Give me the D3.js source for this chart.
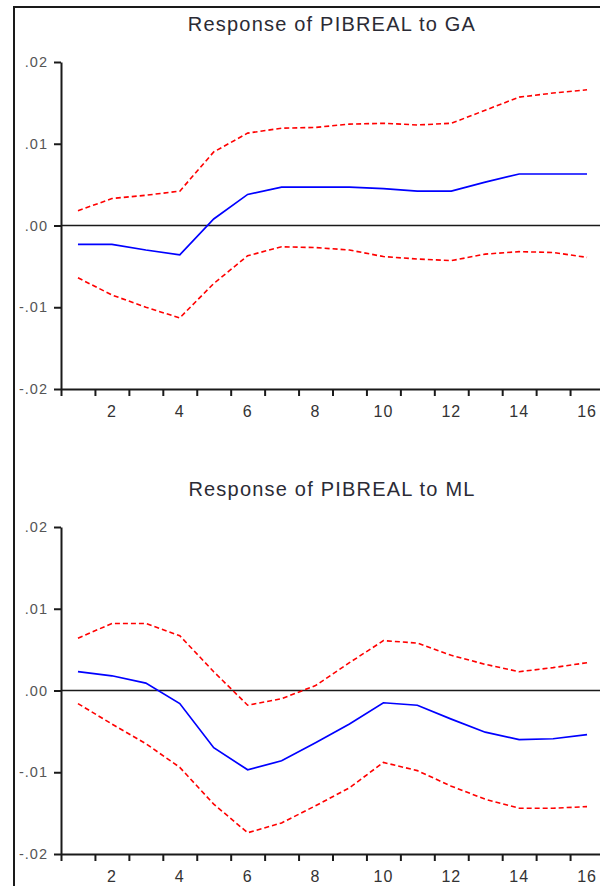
<!DOCTYPE html>
<html>
<head>
<meta charset="utf-8">
<script src="https://cdn.jsdelivr.net/npm/d3@7"></script>
<style>
  html, body { margin: 0; padding: 0; background: #fff; }
  svg { display: block; }
  text { font-family: "Liberation Sans", Arial, sans-serif; }
</style>
</head>
<body>
<svg id="chart" width="600" height="886"></svg>
<script>
// ---- data ----
const periods = [1,2,3,4,5,6,7,8,9,10,11,12,13,14,15,16];
const xTickLabels = [2,4,6,8,10,12,14,16];
const yTickValues = [-0.02,-0.01,0,0.01,0.02];
const yTickLabels = ["-.02","-.01",".00",".01",".02"];

const titleGA = "Response of PIBREAL to GA";
const gaResp  = [-0.0023,-0.0023,-0.0030,-0.0036,0.0008,0.0038,0.0047,0.0047,0.0047,0.0045,0.0042,0.0042,0.0053,0.0063,0.0063,0.0063];
const gaUpper = [0.0018,0.0033,0.0037,0.0042,0.0090,0.0113,0.0119,0.0120,0.0124,0.0125,0.0123,0.0125,0.0141,0.0157,0.0162,0.0166];
const gaLower = [-0.0064,-0.0085,-0.0100,-0.0113,-0.0071,-0.0037,-0.0026,-0.0027,-0.0030,-0.0038,-0.0041,-0.0043,-0.0035,-0.0032,-0.0033,-0.0039];

const titleML = "Response of PIBREAL to ML";
const mlResp  = [0.0023,0.0018,0.0009,-0.0016,-0.0070,-0.0097,-0.0086,-0.0064,-0.0041,-0.0015,-0.0018,-0.0035,-0.0051,-0.0060,-0.0059,-0.0054];
const mlUpper = [0.0064,0.0082,0.0082,0.0067,0.0023,-0.0018,-0.0010,0.0006,0.0034,0.0061,0.0058,0.0043,0.0032,0.0023,0.0028,0.0034];
const mlLower = [-0.0016,-0.0041,-0.0065,-0.0094,-0.0139,-0.0174,-0.0162,-0.0141,-0.0119,-0.0088,-0.0098,-0.0117,-0.0133,-0.0144,-0.0144,-0.0142];

// ---- drawing ----
const svg = d3.select("#chart");

// outer frame (left & top edges visible)
svg.append("path")
  .attr("d", "M14,886 L14,7 L602,7")
  .attr("fill", "none").attr("stroke", "#1a1a1a").attr("stroke-width", 2);

const x = d3.scaleLinear().domain([0.5, 16.5]).range([61, 604]);

function panel(title, resp, upper, lower, yTop, yBottom, titleY) {
  const g = svg.append("g");
  const y = d3.scaleLinear().domain([-0.02, 0.02]).range([yBottom, yTop]);

  g.append("text")
    .attr("x", 332).attr("y", titleY)
    .attr("text-anchor", "middle")
    .attr("font-size", 20).attr("letter-spacing", 1.2)
    .attr("fill", "#2b2b35")
    .text(title);

  // y axis
  const yAxis = d3.axisLeft(y)
    .tickValues(yTickValues)
    .tickFormat((d, i) => yTickLabels[i])
    .tickSize(7).tickSizeOuter(0).tickPadding(6);
  const ya = g.append("g").attr("transform", "translate(61,0)").call(yAxis);
  ya.select(".domain").attr("stroke", "#1a1a1a").attr("stroke-width", 2);
  ya.selectAll(".tick line").attr("stroke", "#1a1a1a").attr("stroke-width", 2);
  ya.selectAll(".tick text")
    .attr("font-size", 14.5).attr("letter-spacing", 1)
    .attr("fill", "#555").attr("font-family", "Liberation Sans, Arial, sans-serif");

  // x axis
  const xTicks = d3.range(0, 17).map(i => i + 0.5);
  const xAxis = d3.axisBottom(x)
    .tickValues(xTicks).tickFormat("")
    .tickSize(7).tickSizeOuter(0);
  const xa = g.append("g").attr("transform", `translate(0,${yBottom})`).call(xAxis);
  xa.select(".domain").attr("stroke", "#1a1a1a").attr("stroke-width", 2);
  xa.selectAll(".tick line").attr("stroke", "#1a1a1a").attr("stroke-width", 2);

  g.selectAll(".xlab").data(xTickLabels).enter().append("text")
    .attr("class", "xlab")
    .attr("x", d => x(d)).attr("y", yBottom + 28)
    .attr("text-anchor", "middle")
    .attr("font-size", 16).attr("letter-spacing", 1)
    .attr("fill", "#333")
    .text(d => d);

  // zero line
  g.append("line")
    .attr("x1", 61).attr("x2", 604)
    .attr("y1", y(0)).attr("y2", y(0))
    .attr("stroke", "#1a1a1a").attr("stroke-width", 1.6);

  const line = d3.line().x((d, i) => x(periods[i])).y(d => y(d));

  g.append("path").datum(upper).attr("d", line)
    .attr("fill", "none").attr("stroke", "#ff0000")
    .attr("stroke-width", 1.6).attr("stroke-dasharray", "5,3");
  g.append("path").datum(lower).attr("d", line)
    .attr("fill", "none").attr("stroke", "#ff0000")
    .attr("stroke-width", 1.6).attr("stroke-dasharray", "5,3");
  g.append("path").datum(resp).attr("d", line)
    .attr("fill", "none").attr("stroke", "#0000ff")
    .attr("stroke-width", 1.7);
}

panel(titleGA, gaResp, gaUpper, gaLower, 62, 389, 31);
panel(titleML, mlResp, mlUpper, mlLower, 527, 854, 496);
</script>
</body>
</html>
